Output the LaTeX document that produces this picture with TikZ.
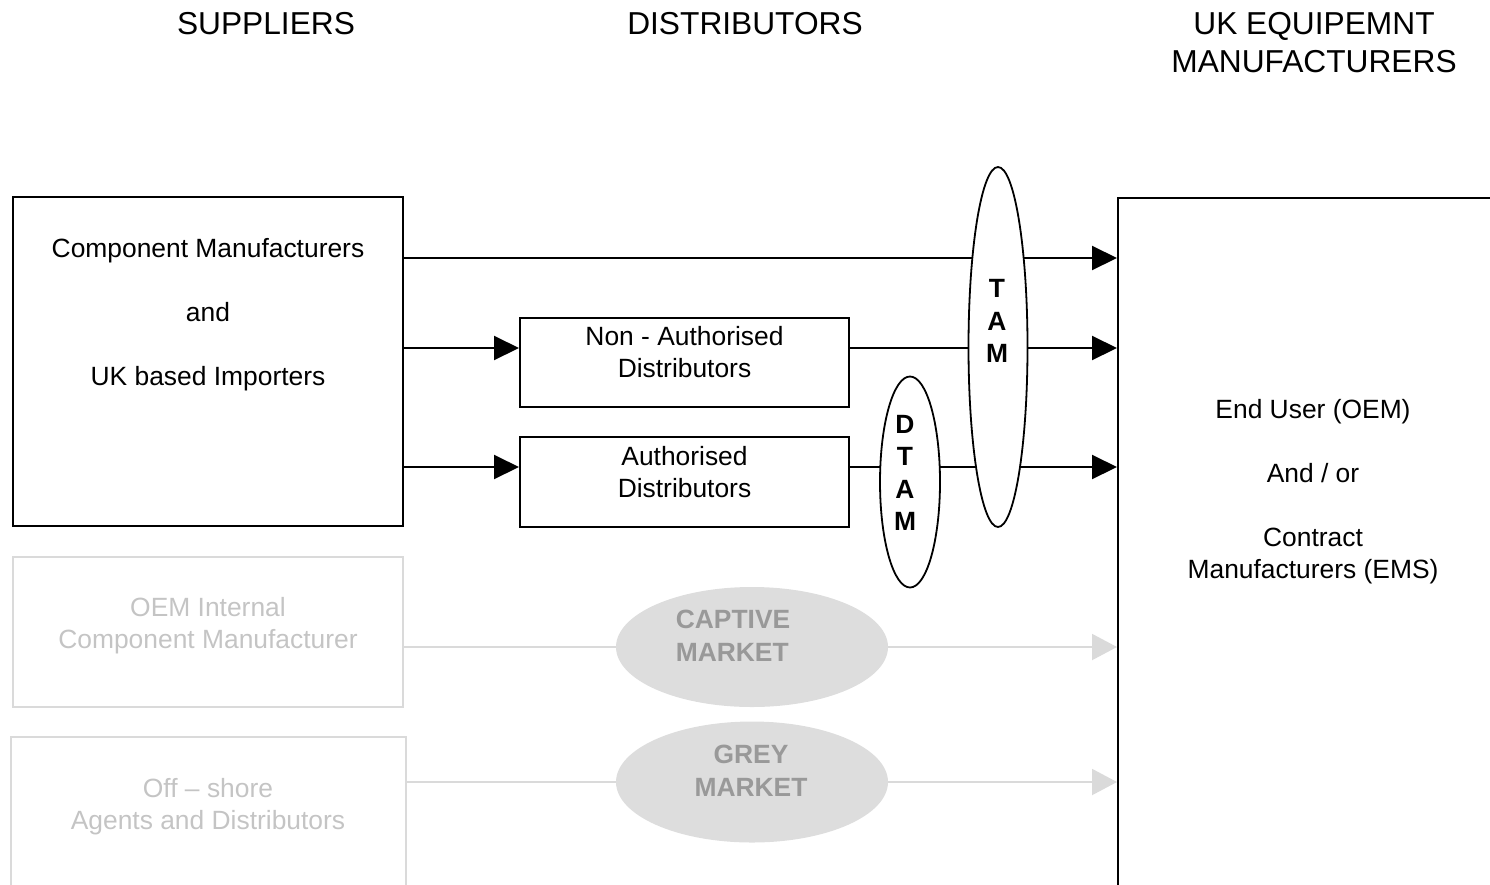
\documentclass[tikz,border=0pt]{standalone}
\usepackage{fontspec}
\setmainfont{Liberation Sans}
\usetikzlibrary{arrows.meta,shapes.geometric}
\definecolor{lg}{HTML}{DADADA}
\definecolor{lgt}{HTML}{C4C4C4}
\definecolor{ef}{HTML}{DDDDDD}
\definecolor{et}{HTML}{999999}
\tikzset{
 txt/.style={align=center, font=\fontsize{26.4}{32}\selectfont, inner sep=0pt},
 hdr/.style={align=center, font=\fontsize{31.7}{38}\selectfont, inner sep=0pt},
 boldtxt/.style={align=center, inner sep=0pt, font=\fontsize{26.4}{32.5}\selectfont\bfseries},
 box/.style={draw, line width=2pt, rectangle, inner sep=0pt},
 gbox/.style={draw=lg, line width=2pt, rectangle, inner sep=0pt},
 oval/.style={draw, line width=1.8pt, ellipse, fill=white, inner sep=0pt},
 goval/.style={ellipse, fill=ef, inner sep=0pt},
 arr/.style={line width=2pt, -{Triangle[length=25pt,width=24pt]}},
 garr/.style={color=lg, line width=2pt, -{Triangle[length=25pt,width=26pt]}},
}
\begin{document}
\begin{tikzpicture}[x=1pt,y=-1pt]
\useasboundingbox (0,0) rectangle (1490,884);
\clip (0,0) rectangle (1490,884);

% headers
\node[hdr] (h1) at (266,24) {SUPPLIERS};
\node[hdr] (h2) at (745,24) {DISTRIBUTORS};
\node[hdr] (h3) at (1314,43) {UK EQUIPEMNT\\MANUFACTURERS};

% boxes
\node[box, minimum width=390pt, minimum height=329pt] (sup) at (208,361.5) {};
\node[txt] (suptxt) at (208,315) {Component Manufacturers\\~\\and\\~\\UK based Importers};
\node[box, minimum width=329pt, minimum height=89pt] (na) at (684.5,362.5) {};
\node[txt] (natxt) at (684.5,352) {Non - Authorised\\Distributors};
\node[box, minimum width=329pt, minimum height=90pt] (ad) at (684.5,482) {};
\node[txt] (adtxt) at (684.5,472) {Authorised\\Distributors};
\node[box, minimum width=392pt, minimum height=712pt] (oem) at (1314,554) {};
\node[txt] (oemtxt) at (1313,492) {End User (OEM)\\~\\And / or\\~\\Contract\\Manufacturers (EMS)};

% grey boxes
\node[gbox, minimum width=390pt, minimum height=150pt] (int) at (208,632) {};
\node[txt, text=lgt] (inttxt) at (208,626) {OEM Internal\\Component Manufacturer};
\node[gbox, minimum width=395pt, minimum height=170pt] (off) at (208.5,822) {};
\node[txt, text=lgt] (offtxt) at (208,807) {Off -- shore\\Agents and Distributors};

% rows
\coordinate (r1) at (0,258);
\coordinate (r2) at (0,348);
\coordinate (r3) at (0,467);
\coordinate (r4) at (0,647);
\coordinate (r5) at (0,782);

\draw[arr] (sup.east |- r1) -- (oem.west |- r1);
\draw[arr] (sup.east |- r2) -- (na.west |- r2);
\draw[arr] (na.east |- r2) -- (oem.west |- r2);
\draw[arr] (sup.east |- r3) -- (ad.west |- r3);
\draw[arr] (ad.east |- r3) -- (oem.west |- r3);
\draw[garr] (int.east |- r4) -- (oem.west |- r4);
\draw[garr] (off.east |- r5) -- (oem.west |- r5);

% ellipses
\node[oval, minimum width=59pt, minimum height=360pt] (tam) at (998,347) {};
\node[boldtxt] (tamtxt) at (997,321) {T\\A\\M};
\node[oval, minimum width=60pt, minimum height=211pt] (dtam) at (910,482) {};
\node[boldtxt] (dtamtxt) at (905,473) {D\\T\\A\\M};
\node[goval, minimum width=272pt, minimum height=120pt] (cap) at (752,647) {};
\node[boldtxt, text=et, align=left] (captxt) at (733,636) {CAPTIVE\\MARKET};
\node[goval, minimum width=272pt, minimum height=121pt] (grey) at (752,782) {};
\node[boldtxt, text=et] (greytxt) at (751,771) {GREY\\MARKET};
\end{tikzpicture}
\end{document}
